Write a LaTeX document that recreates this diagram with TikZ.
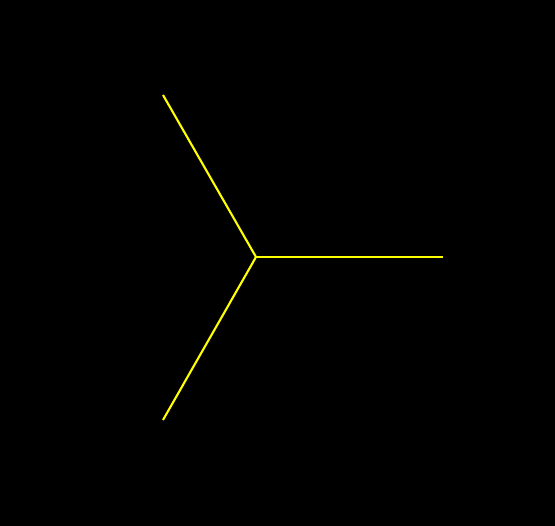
\documentclass[tikz,border=0pt]{standalone}
\usepackage{xcolor}
\definecolor{spokeyellow}{RGB}{255,255,0}

\begin{document}
\begin{tikzpicture}[x=0.02cm,y=0.02cm]
    % Background
    \fill[black] (0,0) rectangle (555,526);
    \useasboundingbox (0,0) rectangle (555,526);

    % Three spokes from the hub
    \coordinate (hub) at (256,269);
    \coordinate (east) at (443,269);
    \coordinate (northwest) at (163,431);
    \coordinate (southwest) at (163,106);
    \foreach \tip in {east,northwest,southwest}
        \draw[spokeyellow,line width=1.2pt] (hub) -- (\tip);
\end{tikzpicture}
\end{document}
